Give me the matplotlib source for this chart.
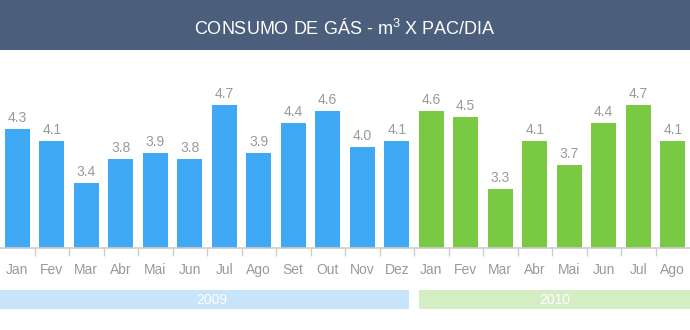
import matplotlib
matplotlib.use("Agg")
import matplotlib.pyplot as plt
from matplotlib.patches import Rectangle
import matplotlib.transforms as mtransforms

plt.rcParams['font.family'] = ['Liberation Sans', 'DejaVu Sans']
plt.rcParams['mathtext.fontset'] = 'custom'
plt.rcParams['mathtext.rm'] = 'Liberation Sans'
plt.rcParams['mathtext.it'] = 'Liberation Sans'
plt.rcParams['mathtext.default'] = 'regular'

title = "CONSUMO DE GÁS - m$^3$ X PAC/DIA"
months_2009 = ["Jan", "Fev", "Mar", "Abr", "Mai", "Jun", "Jul", "Ago", "Set", "Out", "Nov", "Dez"]
values_2009 = [4.3, 4.1, 3.4, 3.8, 3.9, 3.8, 4.7, 3.9, 4.4, 4.6, 4.0, 4.1]
months_2010 = ["Jan", "Fev", "Mar", "Abr", "Mai", "Jun", "Jul", "Ago"]
values_2010 = [4.6, 4.5, 3.3, 4.1, 3.7, 4.4, 4.7, 4.1]
years = ["2009", "2010"]

blue = "#3fa9f5"
green = "#7ac943"
band_blue = "#c7e4fa"
band_green = "#d5edc3"

fig = plt.figure(figsize=(6.9, 3.3), dpi=100)
fig.patch.set_facecolor("white")

# header
fig.patches.append(Rectangle((0, 280 / 330), 1, 50 / 330, transform=fig.transFigure,
                             facecolor="#4b5e7b", edgecolor="none", zorder=0))
fig.text(0.5, 1 - 29 / 330, title, ha="center", va="center", color="white", fontsize=13)

ax = fig.add_axes([0, 82 / 330, 1, 193 / 330])
labels = months_2009 + months_2010
values = values_2009 + values_2010
colors = [blue] * len(values_2009) + [green] * len(values_2010)
x = list(range(len(values)))
bars = ax.bar(x, values, width=0.72, color=colors, zorder=2)
for xi, v in zip(x, values):
    ax.annotate(f"{v:.1f}", (xi, v), xytext=(0, 3), textcoords="offset points",
                ha="center", va="bottom", color="#999999", fontsize=10)

ax.set_xlim(-0.5, len(values) - 0.5)
ax.set_ylim(2.32, 2.32 + 193 / 60)
for s in ["top", "right", "left"]:
    ax.spines[s].set_visible(False)
ax.spines["bottom"].set_color("#cccccc")
ax.spines["bottom"].set_linewidth(1.2)
ax.set_yticks([])
ax.set_xticks(x)
ax.set_xticklabels(labels, color="#999999", fontsize=10)
ax.tick_params(axis="x", which="major", length=0, pad=11)
ax.set_xticks([i + 0.5 for i in range(len(values) - 1)], minor=True)
ax.tick_params(axis="x", which="minor", length=6, color="#cccccc", width=1)
ax.set_facecolor("none")

# year bands
trans = mtransforms.blended_transform_factory(ax.transData, fig.transFigure)
n1 = len(values_2009)
gap = 0.14
b_y0, b_h = 21 / 330, 19 / 330
ax.add_patch(Rectangle((-0.5, b_y0), n1 - gap, b_h, transform=trans,
                       facecolor=band_blue, edgecolor="none", clip_on=False))
ax.add_patch(Rectangle((n1 - 0.5 + gap, b_y0), len(values) - n1 - gap, b_h, transform=trans,
                       facecolor=band_green, edgecolor="none", clip_on=False))
ax.text((-0.5 + n1 - 0.5 - gap) / 2 + 0.2, b_y0 + b_h / 2, years[0], transform=trans,
        ha="center", va="center", color="white", fontsize=10)
ax.text((n1 - 0.5 + gap + len(values) - 0.5) / 2, b_y0 + b_h / 2, years[1], transform=trans,
        ha="center", va="center", color="white", fontsize=10)

fig.savefig("out.png", dpi=100)
